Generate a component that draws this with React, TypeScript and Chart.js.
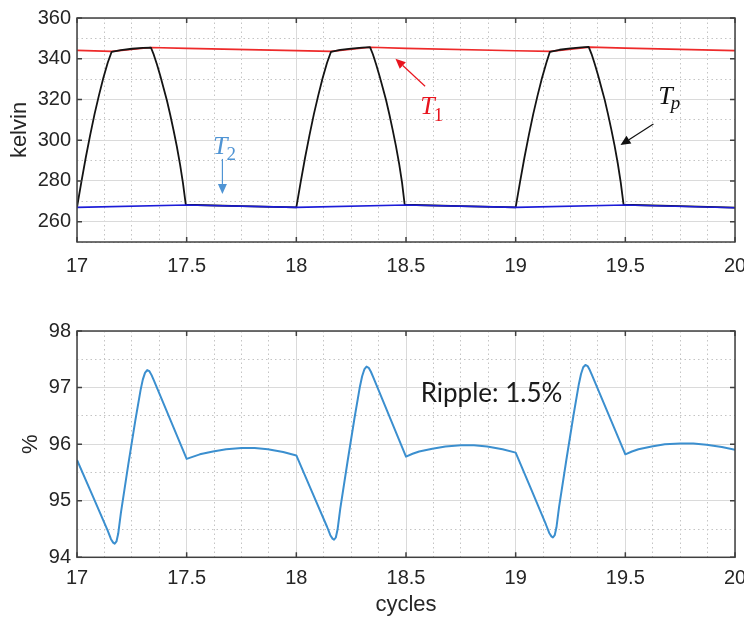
import React, { useEffect, useRef } from "react";
import { Chart, registerables } from "chart.js";
Chart.register(...registerables);

// ---------- data ----------
const xTickValues = [17, 17.5, 18, 18.5, 19, 19.5, 20];
const tempTickValues = [260, 280, 300, 320, 340, 360];
const effTickValues = [94, 95, 96, 97, 98];

const t1X = [17, 17.158, 17.337, 17.5, 18.0, 18.158, 18.337, 18.5, 19.0, 19.158, 19.337, 19.5, 20];
const t1Y = [344.1, 343.6, 345.5, 345.1, 344.0, 343.6, 345.6, 345.1, 343.9, 343.6, 345.7, 345.2, 344.0];

const t2X = [17, 17.5, 18, 18.5, 19, 19.5, 20];
const t2Y = [267.0, 268.2, 267.0, 268.2, 267.0, 268.2, 266.8];

const tpX = [
  17.0, 17.02, 17.04, 17.06, 17.08, 17.1, 17.12, 17.14, 17.158, 17.2, 17.25, 17.3, 17.337,
  17.35, 17.365, 17.38, 17.395, 17.41, 17.425, 17.44, 17.455, 17.47, 17.483, 17.496, 17.75,
  18.0, 18.02, 18.04, 18.06, 18.08, 18.1, 18.12, 18.14, 18.158, 18.2, 18.25, 18.3, 18.336,
  18.349, 18.364, 18.379, 18.394, 18.409, 18.424, 18.439, 18.454, 18.469, 18.482, 18.494, 18.75,
  19.0, 19.02, 19.04, 19.06, 19.08, 19.1, 19.12, 19.14, 19.156, 19.2, 19.25, 19.3, 19.333,
  19.346, 19.361, 19.376, 19.391, 19.406, 19.421, 19.436, 19.451, 19.466, 19.479, 19.492, 19.75, 20.0,
];
const tpY = [
  267.0, 279.5, 291.5, 302.5, 312.8, 322.0, 330.5, 338.0, 343.4, 344.2, 344.9, 345.3, 345.5,
  342.0, 337.0, 331.5, 325.5, 319.5, 312.5, 305.0, 297.0, 288.0, 279.0, 268.3, 267.6,
  267.0, 279.5, 291.5, 302.5, 312.8, 322.0, 330.5, 338.0, 343.4, 344.3, 345.0, 345.5, 345.7,
  342.2, 337.2, 331.7, 325.7, 319.7, 312.7, 305.2, 297.2, 288.2, 279.2, 268.3, 267.6,
  267.0, 279.5, 291.5, 302.5, 312.8, 322.0, 330.5, 338.0, 343.4, 344.4, 345.1, 345.6, 345.8,
  342.3, 337.3, 331.8, 325.8, 319.8, 312.8, 305.3, 297.3, 288.3, 279.3, 268.3, 267.6, 266.9,
];

const effX = [
  17.0, 17.07, 17.14, 17.155, 17.165, 17.172, 17.18, 17.188, 17.196, 17.2, 17.233, 17.266, 17.29,
  17.3, 17.31, 17.32, 17.33, 17.34, 17.35, 17.5, 17.53, 17.56, 17.62, 17.68, 17.75, 17.81, 17.87, 17.94,
  18.0, 18.07, 18.14, 18.155, 18.165, 18.172, 18.18, 18.188, 18.196, 18.2, 18.233, 18.266, 18.29,
  18.3, 18.31, 18.32, 18.33, 18.34, 18.35, 18.5, 18.53, 18.56, 18.62, 18.68, 18.75, 18.81, 18.87, 18.94,
  19.0, 19.07, 19.138, 19.153, 19.163, 19.17, 19.178, 19.186, 19.194, 19.198, 19.231, 19.264, 19.288,
  19.298, 19.308, 19.318, 19.328, 19.338, 19.348, 19.5, 19.53, 19.56, 19.62, 19.68, 19.75, 19.81, 19.87, 19.94, 20.0,
];
const effY = [
  95.72, 95.1, 94.47, 94.32, 94.26, 94.24, 94.28, 94.42, 94.66, 94.78, 95.62, 96.42, 96.96,
  97.14, 97.26, 97.31, 97.29, 97.22, 97.13, 95.74, 95.78, 95.82, 95.87, 95.91, 95.93, 95.93, 95.91, 95.86,
  95.80, 95.17, 94.54, 94.39, 94.33, 94.31, 94.35, 94.49, 94.73, 94.85, 95.68, 96.48, 97.02,
  97.2, 97.32, 97.37, 97.35, 97.28, 97.19, 95.78, 95.83, 95.87, 95.92, 95.96, 95.98, 95.98, 95.96, 95.91,
  95.85, 95.21, 94.58, 94.43, 94.37, 94.35, 94.39, 94.53, 94.77, 94.89, 95.72, 96.52, 97.06,
  97.24, 97.36, 97.40, 97.38, 97.31, 97.22, 95.82, 95.87, 95.91, 95.96, 96.0, 96.01, 96.01, 95.99, 95.95, 95.90,
];

// ---------- styling ----------
const SANS = "'Liberation Sans', Arial, Helvetica, sans-serif";
const SERIF = "'Liberation Serif', 'Times New Roman', serif";
const MAJOR_GRID = "#dadada";
const MINOR_GRID = "#c4c4c4";
const AXIS_COLOR = "#404040";
const TEXT_COLOR = "#262626";

const toPts = (xs: number[], ys: number[]) => xs.map((x, i) => ({ x, y: ys[i] }));

const isMultiple = (v: number, step: number) => Math.abs(v / step - Math.round(v / step)) < 1e-6;

type Note = {
  text: string;
  sub?: string;
  color: string;
  x: number;
  y: number;
  font: string;
  subFont?: string;
  subDx?: number;
  subDy?: number;
  arrow?: [number, number, number, number];
};

const framePlugin = {
  id: "frame",
  afterDatasetsDraw(chart: any, _args: any, opts: any) {
    const { ctx, chartArea: a } = chart;
    const xs = chart.scales.x;
    const ys = chart.scales.y;
    ctx.save();
    ctx.strokeStyle = AXIS_COLOR;
    ctx.lineWidth = 1.5;
    ctx.strokeRect(a.left, a.top, a.right - a.left, a.bottom - a.top);
    ctx.beginPath();
    const L = 5;
    for (const t of xs.ticks) {
      const p = xs.getPixelForValue(t.value);
      ctx.moveTo(p, a.bottom);
      ctx.lineTo(p, a.bottom - L);
      ctx.moveTo(p, a.top);
      ctx.lineTo(p, a.top + L);
    }
    for (const t of ys.ticks) {
      const p = ys.getPixelForValue(t.value);
      ctx.moveTo(a.left, p);
      ctx.lineTo(a.left + L, p);
      ctx.moveTo(a.right, p);
      ctx.lineTo(a.right - L, p);
    }
    ctx.stroke();

    const notes: Note[] = opts.notes || [];
    for (const n of notes) {
      ctx.fillStyle = n.color;
      ctx.strokeStyle = n.color;
      if (n.arrow) {
        const x1 = xs.getPixelForValue(n.arrow[0]);
        const y1 = ys.getPixelForValue(n.arrow[1]);
        const x2 = xs.getPixelForValue(n.arrow[2]);
        const y2 = ys.getPixelForValue(n.arrow[3]);
        const ang = Math.atan2(y2 - y1, x2 - x1);
        const hl = 10;
        const hw = 4.5;
        const bx = x2 - hl * Math.cos(ang);
        const by = y2 - hl * Math.sin(ang);
        ctx.lineWidth = 1.2;
        ctx.beginPath();
        ctx.moveTo(x1, y1);
        ctx.lineTo(bx, by);
        ctx.stroke();
        ctx.beginPath();
        ctx.moveTo(x2, y2);
        ctx.lineTo(bx + hw * Math.sin(ang), by - hw * Math.cos(ang));
        ctx.lineTo(bx - hw * Math.sin(ang), by + hw * Math.cos(ang));
        ctx.closePath();
        ctx.fill();
      }
      const px = xs.getPixelForValue(n.x);
      const py = ys.getPixelForValue(n.y);
      ctx.font = n.font;
      ctx.textAlign = "left";
      ctx.textBaseline = "alphabetic";
      ctx.fillText(n.text, px, py);
      if (n.sub) {
        const w = ctx.measureText(n.text).width;
        ctx.font = n.subFont || n.font;
        ctx.fillText(n.sub, px + w + (n.subDx || 0), py + (n.subDy || 0));
      }
    }
    ctx.restore();
  },
};

function makeOptions(cfg: {
  yMin: number;
  yMax: number;
  yTicks: number[];
  yMinorStep: number;
  yMajorStep: number;
  yTitle: string;
  yTitlePad: number;
  xTitle?: string;
  xAxisHeight: number;
  padTop: number;
  padRight: number;
  xTickPad: number;
  notes: Note[];
}) {
  return {
    responsive: false,
    maintainAspectRatio: false,
    animation: false,
    devicePixelRatio: 1,
    events: [],
    layout: { padding: { top: cfg.padTop, right: cfg.padRight, left: 0, bottom: 0 } },
    plugins: {
      legend: { display: false },
      tooltip: { enabled: false },
      frame: { notes: cfg.notes },
    },
    scales: {
      x: {
        type: "linear",
        position: "bottom",
        min: 17,
        max: 20,
        afterBuildTicks: (s: any) => {
          s.ticks = xTickValues.map((v) => ({ value: v }));
        },
        afterFit: (s: any) => {
          s.height = cfg.xAxisHeight;
          s.paddingLeft = 0;
          s.paddingRight = 0;
        },
        ticks: {
          autoSkip: false,
          maxRotation: 0,
          padding: cfg.xTickPad,
          color: TEXT_COLOR,
          font: { family: SANS, size: 20 },
          callback: (v: any) => String(v),
        },
        grid: { color: MAJOR_GRID, lineWidth: 1, drawTicks: false },
        border: { display: false },
        title: cfg.xTitle
          ? {
              display: true,
              text: cfg.xTitle,
              color: TEXT_COLOR,
              font: { family: SANS, size: 22 },
              padding: { top: 0, bottom: 2 },
            }
          : { display: false },
      },
      xm: {
        type: "linear",
        position: "bottom",
        min: 17,
        max: 20,
        afterFit: (s: any) => {
          s.height = 0;
          s.paddingLeft = 0;
          s.paddingRight = 0;
        },
        ticks: { display: false, stepSize: 0.125, autoSkip: false },
        grid: {
          drawTicks: false,
          lineWidth: 1,
          color: (c: any) => (isMultiple(c.tick.value, 0.5) ? "rgba(0,0,0,0)" : MINOR_GRID),
        },
        border: { display: false, dash: [1.5, 3] },
      },
      y: {
        type: "linear",
        position: "left",
        min: cfg.yMin,
        max: cfg.yMax,
        afterBuildTicks: (s: any) => {
          s.ticks = cfg.yTicks.map((v) => ({ value: v }));
        },
        afterFit: (s: any) => {
          s.width = 77;
        },
        ticks: {
          padding: 6,
          color: TEXT_COLOR,
          font: { family: SANS, size: 20 },
          callback: (v: any) => String(v),
        },
        grid: { color: MAJOR_GRID, lineWidth: 1, drawTicks: false },
        border: { display: false },
        title: {
          display: true,
          text: cfg.yTitle,
          color: TEXT_COLOR,
          font: { family: SANS, size: 22 },
          padding: { top: cfg.yTitlePad, bottom: 0 },
        },
      },
      ym: {
        type: "linear",
        position: "left",
        min: cfg.yMin,
        max: cfg.yMax,
        afterFit: (s: any) => {
          s.width = 0;
        },
        ticks: { display: false, stepSize: cfg.yMinorStep, autoSkip: false },
        grid: {
          drawTicks: false,
          lineWidth: 1,
          color: (c: any) => (isMultiple(c.tick.value, cfg.yMajorStep) ? "rgba(0,0,0,0)" : MINOR_GRID),
        },
        border: { display: false, dash: [1.5, 3] },
      },
    },
  };
}

function lineDs(label: string, xs: number[], ys: number[], color: string, width: number) {
  return {
    label,
    data: toPts(xs, ys),
    borderColor: color,
    backgroundColor: color,
    borderWidth: width,
    pointRadius: 0,
    tension: 0,
    borderJoinStyle: "round",
    fill: false,
    xAxisID: "x",
    yAxisID: "y",
  };
}

const CANVAS_W = 760;

export default function App() {
  const topRef = useRef<HTMLCanvasElement | null>(null);
  const botRef = useRef<HTMLCanvasElement | null>(null);

  useEffect(() => {
    const italic = (size: number) => `italic ${size}px ${SERIF}`;
    const upright = (size: number) => `${size}px ${SERIF}`;

    const topNotes: Note[] = [
      {
        text: "T", sub: "1", color: "#e8141e", x: 18.565, y: 312.7,
        font: italic(26), subFont: upright(19), subDx: -1, subDy: 7,
        arrow: [18.587, 326.5, 18.452, 340.0],
      },
      {
        text: "T", sub: "p", color: "#111111", x: 19.65, y: 317.8,
        font: italic(26), subFont: italic(19), subDx: -2, subDy: 5,
        arrow: [19.628, 308.0, 19.478, 297.6],
      },
      {
        text: "T", sub: "2", color: "#4f94d4", x: 17.62, y: 293.0,
        font: italic(26), subFont: upright(19), subDx: -1, subDy: 6,
        arrow: [17.663, 290.8, 17.663, 273.6],
      },
    ];

    const botNotes: Note[] = [
      { text: "Ripple: 1.5%", color: "#1a1a1a", x: 18.567, y: 96.75, font: `26px Lato, 'Open Sans', sans-serif` },
    ];

    const top = new Chart(topRef.current as HTMLCanvasElement, {
      type: "line",
      data: {
        datasets: [
          lineDs("T2", t2X, t2Y, "#1c1cd8", 1.6),
          lineDs("Tp", tpX, tpY, "#141414", 1.8),
          lineDs("T1", t1X, t1Y, "#ee2a2a", 1.6),
        ],
      },
      options: makeOptions({
        yMin: 250, yMax: 360, yTicks: tempTickValues, yMinorStep: 10, yMajorStep: 20,
        yTitle: "kelvin", yTitlePad: 7, xAxisHeight: 58, padTop: 14, padRight: CANVAS_W - 735,
        xTickPad: 12, notes: topNotes,
      }) as any,
      plugins: [framePlugin],
    });

    const bot = new Chart(botRef.current as HTMLCanvasElement, {
      type: "line",
      data: {
        datasets: [lineDs("Efficiency", effX, effY, "#3b8fcf", 2)],
      },
      options: makeOptions({
        yMin: 94, yMax: 98, yTicks: effTickValues, yMinorStep: 0.5, yMajorStep: 1,
        yTitle: "%", yTitlePad: 17.5, xTitle: "cycles", xAxisHeight: 62.7, padTop: 31,
        padRight: CANVAS_W - 735, xTickPad: 9, notes: botNotes,
      }) as any,
      plugins: [framePlugin],
    });

    return () => {
      top.destroy();
      bot.destroy();
    };
  }, []);

  return (
    <div
      style={{
        position: "absolute",
        left: 0,
        top: 0,
        width: 744,
        height: 620,
        overflow: "hidden",
        background: "#ffffff",
      }}
    >
      <canvas
        ref={topRef}
        width={CANVAS_W}
        height={300}
        style={{ position: "absolute", left: 0, top: 0, width: CANVAS_W, height: 300 }}
      />
      <canvas
        ref={botRef}
        width={CANVAS_W}
        height={320}
        style={{ position: "absolute", left: 0, top: 300, width: CANVAS_W, height: 320 }}
      />
    </div>
  );
}
